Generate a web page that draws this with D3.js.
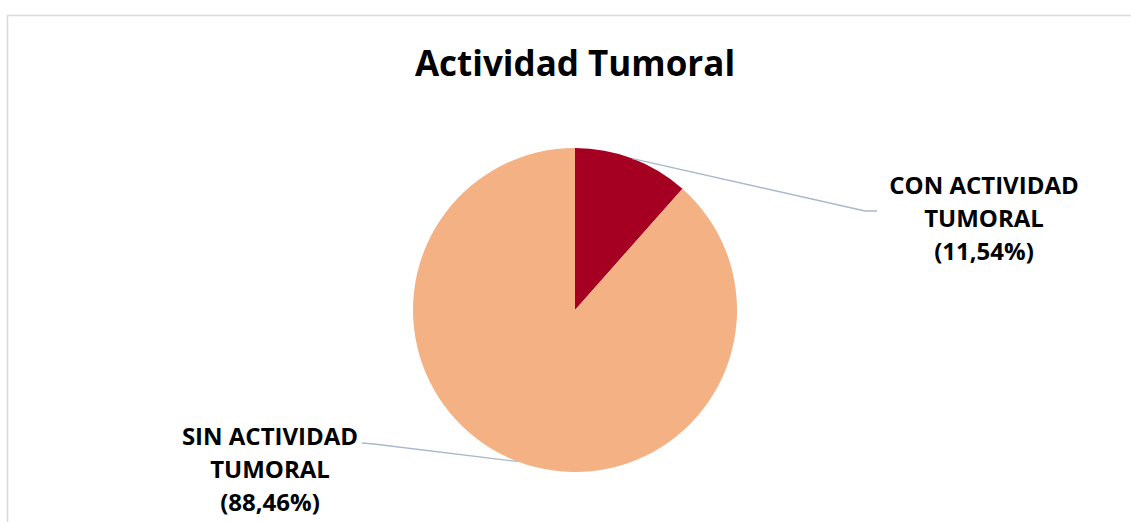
<!DOCTYPE html>
<html>
<head>
<meta charset="utf-8">
<script src="https://cdn.jsdelivr.net/npm/d3@7"></script>
<style>
  body { margin: 0; background: #fff; }
  svg text { font-family: "Open Sans", Lato, sans-serif; font-weight: 700; fill: #000; }
</style>
</head>
<body>
<svg id="chart" width="1131" height="522"></svg>
<script>
// data
const categories = ['CON ACTIVIDAD TUMORAL', 'SIN ACTIVIDAD TUMORAL']
const labelLines = [['CON ACTIVIDAD', 'TUMORAL'], ['SIN ACTIVIDAD', 'TUMORAL']]
const values = [11.54, 88.46]
const colors = ['#A50021', '#F4B183']

const width = 1131
const height = 522
const cx = 575
const cy = 310
const radius = 162

const svg = d3.select('#chart')

// chart frame
svg.append('path')
  .attr('d', `M${width},15.5 H7.5 V${height}`)
  .attr('fill', 'none')
  .attr('stroke', '#d9dce1')
  .attr('stroke-width', 1.5)

svg.append('text')
  .text('Actividad Tumoral')
  .attr('x', cx)
  .attr('y', 76)
  .attr('text-anchor', 'middle')
  .style('font-size', '35px')

const pie = d3.pie().sort(null).value(d => d)
const arcs = pie(values)
const arc = d3.arc().innerRadius(0).outerRadius(radius)

const g = svg.append('g').attr('transform', `translate(${cx},${cy})`)
g.selectAll('path.slice')
  .data(arcs)
  .enter()
  .append('path')
  .attr('class', 'slice')
  .attr('d', arc)
  .attr('fill', (d, i) => colors[i])

// label placement (layout only)
const labelPos = [
  { x: 984, y: 186, elbow: [877, 211] },
  { x: 270, y: 437, elbow: [362, 443] }
]
const fmt = v => '(' + d3.format('.2f')(v).replace('.', ',') + '%)'

arcs.forEach((d, i) => {
  const mid = (d.startAngle + d.endAngle) / 2
  const px = cx + radius * Math.sin(mid)
  const py = cy - radius * Math.cos(mid)
  const p = labelPos[i]
  const knee = i === 0 ? [p.elbow[0] - 12, p.elbow[1]] : [p.elbow[0] + 12, p.elbow[1] + 1]
  svg.append('path')
    .attr('d', d3.line()([[px, py], knee, p.elbow]))
    .attr('fill', 'none')
    .attr('stroke', '#a9b8cc')
    .attr('stroke-width', 1.3)

  const lines = labelLines[i].concat([fmt(values[i])])
  const t = svg.append('text').attr('text-anchor', 'middle').style('font-size', '24px')
  lines.forEach((l, j) => {
    t.append('tspan').attr('x', p.x).attr('y', p.y + j * 33 + 8).text(l)
  })
})
</script>
</body>
</html>
